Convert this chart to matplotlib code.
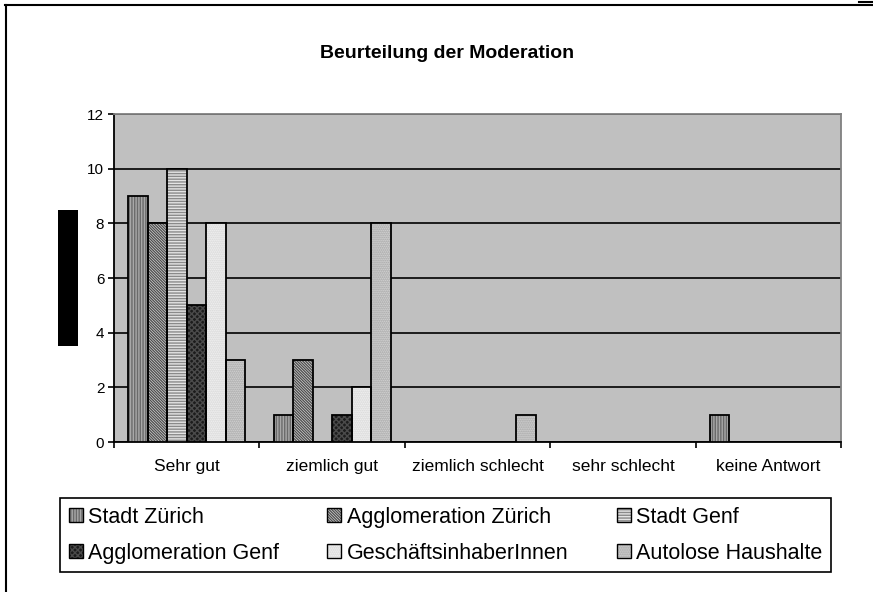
import numpy as np
import matplotlib
matplotlib.use("Agg")
import matplotlib.pyplot as plt
from matplotlib.patches import Rectangle
from matplotlib.lines import Line2D

plt.rcParams["font.family"] = ["Liberation Sans", "DejaVu Sans"]
plt.rcParams["hatch.linewidth"] = 1.0

# Daten aus der Grafik
kategorien = ["Sehr gut", "ziemlich gut", "ziemlich schlecht", "sehr schlecht", "keine Antwort"]
gruppen = [
    "Stadt Zürich",
    "Agglomeration Zürich",
    "Stadt Genf",
    "Agglomeration Genf",
    "GeschäftsinhaberInnen",
    "Autolose Haushalte",
]
stadt_zuerich = [9, 1, 0, 0, 1]
agglo_zuerich = [8, 3, 0, 0, 0]
stadt_genf = [10, 0, 0, 0, 0]
agglo_genf = [5, 1, 0, 0, 0]
geschaeft = [8, 2, 0, 0, 0]
autolos = [3, 8, 1, 0, 0]
werte = [stadt_zuerich, agglo_zuerich, stadt_genf, agglo_genf, geschaeft, autolos]

# Fuellung, Schraffur, Schraffurfarbe je Gruppe
stile = [
    ("#a8a8a8", "||||||", "#6a6a6a"),
    ("#ececec", "\\" * 12, "#505050"),
    ("#e4e4e4", "------", "#8a8a8a"),
    ("#1c1c1c", "xxxxxx", "#4a4a4a"),
    ("#f6f6f6", "........", "#d0d0d0"),
    ("#dcdcdc", "........", "#9a9a9a"),
]

W, H = 873, 592
fig = plt.figure(figsize=(W / 100, H / 100), dpi=100)
ax = fig.add_axes([114 / W, 1 - 442 / H, (841 - 114) / W, (442 - 114) / H])
ax.set_facecolor("#c0c0c0")

x = np.arange(len(kategorien))
n = len(gruppen)
breite = 0.134
handles = []
for i, (vals, (fc, hatch, hc)) in enumerate(zip(werte, stile)):
    pos = x - breite * n / 2 + breite * (i + 0.5)
    ax.bar(pos, vals, breite, color=fc, hatch=hatch, edgecolor=hc, linewidth=0, zorder=3)
    ax.bar(pos, vals, breite, fill=False, edgecolor="black", linewidth=1.3, zorder=4)
    h1 = Rectangle((0, 0), 1, 1, facecolor=fc, hatch=hatch, edgecolor=hc, linewidth=0)
    h2 = Rectangle((0, 0), 1, 1, fill=False, edgecolor="black", linewidth=1.0)
    handles.append((h1, h2))

ax.set_xlim(-0.5, len(kategorien) - 0.5)
ax.set_ylim(0, 12)
ax.set_yticks(np.arange(0, 13, 2))
ax.yaxis.grid(True, color="black", linewidth=1.2, zorder=1)
ax.set_axisbelow(True)
ax.tick_params(axis="y", direction="out", length=4, width=1.2, pad=3, labelsize=11)

ax.set_xticks(x)
ax.set_xticklabels(kategorien)
ax.set_xticks(np.arange(-0.5, len(kategorien), 1), minor=True)
ax.tick_params(axis="x", which="major", length=0, pad=12, labelsize=12.5)
ax.tick_params(axis="x", which="minor", direction="out", length=4, width=1.2)

for s in ["top", "right"]:
    ax.spines[s].set_color("#808080")
    ax.spines[s].set_linewidth(1.3)
for s in ["left", "bottom"]:
    ax.spines[s].set_color("black")
    ax.spines[s].set_linewidth(1.3)

fig.text(447 / W, 1 - 53 / H, "Beurteilung der Moderation", ha="center", va="center",
         fontsize=14, fontweight="bold")

# schwarzer Block anstelle der Achsenbeschriftung
fig.add_artist(Rectangle((58 / W, 1 - 346 / H), 20 / W, 136 / H, facecolor="black",
                         edgecolor="none", transform=fig.transFigure))

# Rahmenlinien
fig.add_artist(Line2D([5 / W, 1], [1 - 5 / H, 1 - 5 / H], color="black", linewidth=1.5,
                      transform=fig.transFigure))
fig.add_artist(Line2D([6 / W, 6 / W], [1 - 5 / H, 0], color="black", linewidth=1.5,
                      transform=fig.transFigure))
fig.add_artist(Line2D([859 / W, 1], [1 - 2 / H, 1 - 2 / H], color="black", linewidth=1.5,
                      transform=fig.transFigure))

reihenfolge = [0, 3, 1, 4, 2, 5]
leg = fig.legend(
    [handles[i] for i in reihenfolge],
    [gruppen[i] for i in reihenfolge],
    ncol=3,
    loc="upper left",
    bbox_to_anchor=(60 / W, 1 - 571 / H, (831 - 60) / W, (571 - 498) / H),
    mode="expand",
    fontsize=15.5,
    frameon=True,
    framealpha=1,
    fancybox=False,
    handlelength=0.65,
    handleheight=0.65,
    handletextpad=0.25,
    columnspacing=0.2,
    labelspacing=0.7,
    borderaxespad=0,
    borderpad=0.4,
)
leg.get_frame().set_edgecolor("black")
leg.get_frame().set_linewidth(1.2)

fig.savefig("out.png", dpi=100)
